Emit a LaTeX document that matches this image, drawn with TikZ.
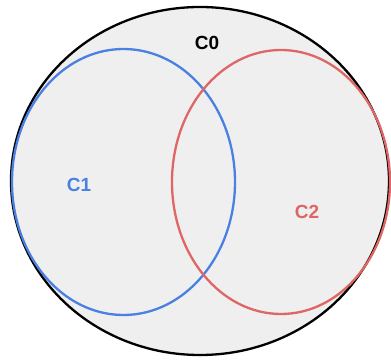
\documentclass[tikz,border=0pt]{standalone}
\usepackage{fontspec}
\setmainfont{Liberation Sans}
\usepackage{xcolor}
\definecolor{setblue}{HTML}{4A80E2}
\definecolor{setred}{HTML}{E06666}
\definecolor{setgray}{HTML}{EFEFEF}

\begin{document}
\begin{tikzpicture}[x=1pt, y=1pt, line width=2.3pt,
  setlabel/.style={font=\fontsize{19}{21}\selectfont\bfseries, inner sep=0}]
\useasboundingbox (0, 0) rectangle (391, 361);
\draw [black, fill=setgray] (200, 180) ellipse [x radius=189, y radius=174];
\draw [setblue] (123.5, 179) ellipse [x radius=111.5, y radius=133];
\draw [setred] (281, 179) ellipse [x radius=109, y radius=132];
\node [setlabel] (c0) at (207, 318) {C0};
\node [setlabel, text=setblue] (c1) at (79, 176) {C1};
\node [setlabel, text=setred] (c2) at (307, 149) {C2};
\end{tikzpicture}
\end{document}
